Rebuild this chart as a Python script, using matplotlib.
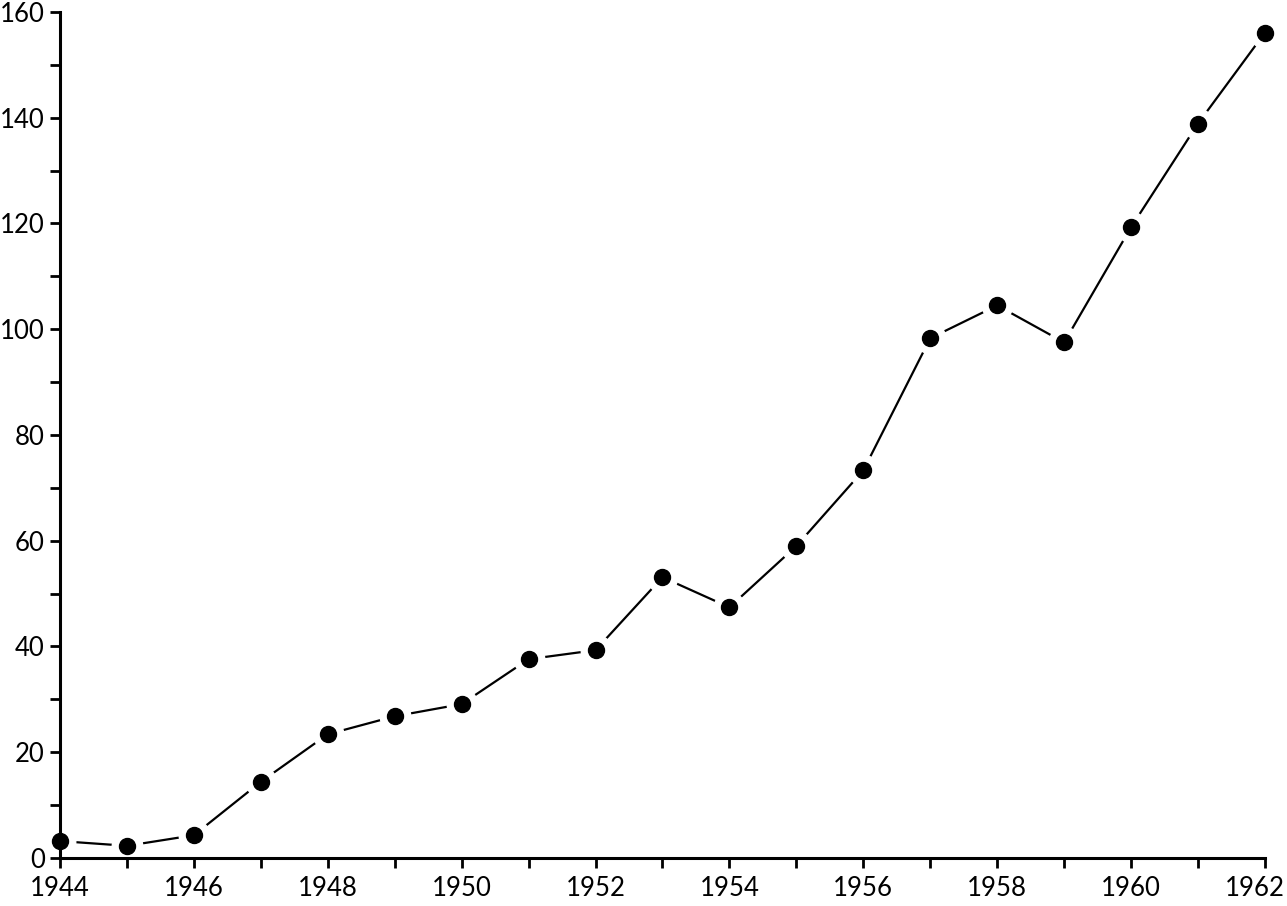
import matplotlib
matplotlib.use("Agg")
import matplotlib.pyplot as plt
import matplotlib.transforms as mtransforms
from matplotlib.ticker import MultipleLocator

years = [1944, 1945, 1946, 1947, 1948, 1949, 1950, 1951, 1952, 1953,
         1954, 1955, 1956, 1957, 1958, 1959, 1960, 1961, 1962]
values = [3.2, 2.3, 4.3, 14.4, 23.4, 26.8, 29.1, 37.6, 39.3, 53.1,
          47.4, 59.0, 73.3, 98.3, 104.5, 97.5, 119.3, 138.9, 156.1]
x_ticks = [1944, 1946, 1948, 1950, 1952, 1954, 1956, 1958, 1960, 1962]
y_ticks = [0, 20, 40, 60, 80, 100, 120, 140, 160]

plt.rcParams['font.family'] = ['Lato', 'DejaVu Sans']

fig = plt.figure(figsize=(12.87, 9.06), dpi=100)
ax = fig.add_axes([0.0466, 0.053, 0.9363, 0.9338])

ax.plot(years, values, color='black', lw=1.6, zorder=1, clip_on=False)
ax.plot(years, values, 'o', ms=22, color='white', mec='white', zorder=1.5, clip_on=False)
ax.plot(years, values, 'o', ms=11.5, color='black', mec='black', zorder=4, clip_on=False)

ax.set_xlim(1944, 1962)
ax.set_ylim(0, 160)
ax.set_xticks(x_ticks)
ax.set_yticks(y_ticks)
ax.xaxis.set_minor_locator(MultipleLocator(1))
ax.yaxis.set_minor_locator(MultipleLocator(10))
ax.set_xticklabels([str(v) for v in x_ticks])
ax.set_yticklabels([str(v) for v in y_ticks])

for s in ['top', 'right']:
    ax.spines[s].set_visible(False)
for s in ['left', 'bottom']:
    ax.spines[s].set_linewidth(2.2)
    ax.spines[s].set_zorder(3)

ax.tick_params(axis='both', which='both', direction='out', length=7, width=2,
               labelsize=18.5, colors='black')
ax.tick_params(axis='x', pad=6)
ax.tick_params(axis='y', pad=4)

last = ax.get_xticklabels()[-1]
last.set_transform(last.get_transform() +
                   mtransforms.ScaledTranslation(-0.1, 0, fig.dpi_scale_trans))

fig.savefig('out.png', dpi=100, facecolor='white')
